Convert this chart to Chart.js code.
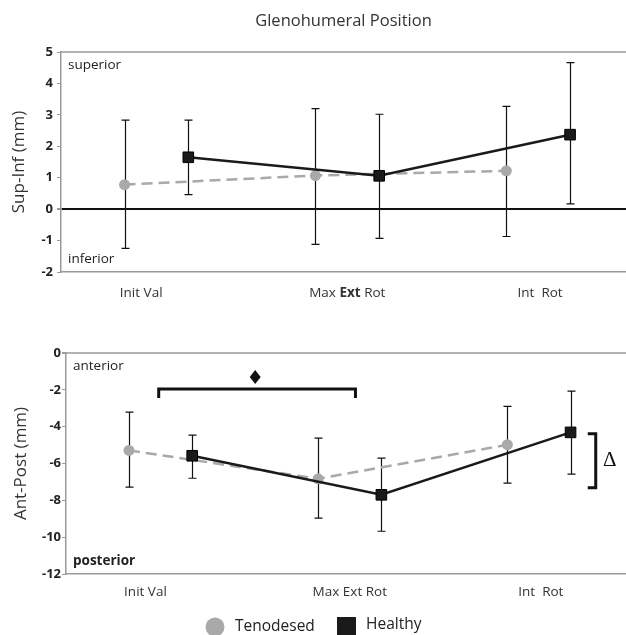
<!DOCTYPE html>
<html>
<head>
<meta charset="utf-8">
<script src="https://cdn.jsdelivr.net/npm/chart.js@4"></script>
<style>
  html, body { margin: 0; padding: 0; background: #fff; }
  #wrap { position: relative; width: 626px; height: 635px; overflow: hidden; }
  #topBox { position: absolute; left: 0; top: 0; width: 626px; height: 320px; }
  #botBox { position: absolute; left: 0; top: 320px; width: 626px; height: 315px; }
</style>
</head>
<body>
<div id="wrap">
  <div id="topBox"><canvas id="supInfChart" width="626" height="320"></canvas></div>
  <div id="botBox"><canvas id="antPostChart" width="626" height="315"></canvas></div>
</div>
<script>
const categories = ['Init Val', 'Max Ext Rot', 'Int  Rot'];
const seriesNames = ['Tenodesed', 'Healthy'];

// Sup-Inf (mm): means and error bar ends
const supInfTenodesed = [0.78, 1.07, 1.22];
const supInfTenodesedHi = [2.83, 3.2, 3.27];
const supInfTenodesedLo = [-1.25, -1.12, -0.87];
const supInfHealthy = [1.65, 1.06, 2.37];
const supInfHealthyHi = [2.83, 3.02, 4.66];
const supInfHealthyLo = [0.46, -0.93, 0.17];
const supInfTicks = [-2, -1, 0, 1, 2, 3, 4, 5];

// Ant-Post (mm)
const antPostTenodesed = [-5.29, -6.83, -4.98];
const antPostTenodesedHi = [-3.21, -4.62, -2.9];
const antPostTenodesedLo = [-7.28, -8.97, -7.07];
const antPostHealthy = [-5.58, -7.7, -4.31];
const antPostHealthyHi = [-4.46, -5.71, -2.07];
const antPostHealthyLo = [-6.8, -9.68, -6.58];
const antPostTicks = [-12, -10, -8, -6, -4, -2, 0];

const FONT = '"Open Sans", "Noto Sans", sans-serif';
const GRAY = '#a9a9a9';
const DARK = '#1a1a1a';
const OFFSET = 0.167;              // side shift of each group inside a category
const LABEL_POS = [-0.08, 1, 2.01]; // where category names sit on the x scale

function points(values, shift) {
  return values.map((v, i) => ({ x: i + shift, y: v }));
}

// vertical error bars with caps, drawn under the markers
const errorBars = {
  id: 'errorBars',
  beforeDatasetsDraw(chart) {
    const { ctx, scales: { y } } = chart;
    ctx.save();
    ctx.strokeStyle = '#111';
    ctx.lineWidth = 1.2;
    chart.data.datasets.forEach((ds, di) => {
      chart.getDatasetMeta(di).data.forEach((pt, i) => {
        const x = Math.round(pt.x) + 0.5;
        const top = y.getPixelForValue(ds.errHi[i]);
        const bot = y.getPixelForValue(ds.errLo[i]);
        ctx.beginPath();
        ctx.moveTo(x, top); ctx.lineTo(x, bot);
        ctx.moveTo(x - 4, top); ctx.lineTo(x + 4, top);
        ctx.moveTo(x - 4, bot); ctx.lineTo(x + 4, bot);
        ctx.stroke();
      });
    });
    ctx.restore();
  }
};

// top frame line, category names (with optional bold words), corner notes
function framePlugin(cfg) {
  return {
    id: 'frame',
    afterDraw(chart) {
      const { ctx, chartArea: a, scales: { x } } = chart;
      ctx.save();
      ctx.strokeStyle = '#9a9a9a';
      ctx.lineWidth = 1.5;
      ctx.beginPath();
      ctx.moveTo(a.left, a.top); ctx.lineTo(a.right, a.top);
      ctx.stroke();

      ctx.fillStyle = '#333';
      ctx.textBaseline = 'middle';
      ctx.textAlign = 'left';
      categories.forEach((label, i) => {
        const words = label.split(' ');
        const pieces = words.map((w, k) => ({
          text: k < words.length - 1 ? w + ' ' : w,
          bold: cfg.boldWords.includes(w)
        }));
        let total = 0;
        pieces.forEach(p => {
          ctx.font = (p.bold ? 'bold ' : '') + '13.5px ' + FONT;
          p.w = ctx.measureText(p.text).width;
          total += p.w;
        });
        let cx = x.getPixelForValue(LABEL_POS[i]) - total / 2;
        pieces.forEach(p => {
          ctx.font = (p.bold ? 'bold ' : '') + '13.5px ' + FONT;
          ctx.fillText(p.text, cx, a.bottom + cfg.labelGap);
          cx += p.w;
        });
      });

      cfg.notes.forEach(n => {
        ctx.font = (n.bold ? 'bold ' : '') + '13.5px ' + FONT;
        ctx.fillStyle = '#222';
        ctx.fillText(n.text, a.left + 7, n.atTop ? a.top + 13 : a.bottom - 13);
      });
      cfg.draw(chart);
      ctx.restore();
    }
  };
}

function makeChart(id, cfg) {
  return new Chart(document.getElementById(id), {
    type: 'line',
    data: {
      datasets: [
        {
          label: seriesNames[1],
          data: points(cfg.healthy, OFFSET),
          errHi: cfg.healthyHi, errLo: cfg.healthyLo,
          borderColor: DARK, backgroundColor: DARK,
          borderWidth: 2.5,
          pointStyle: 'rect', pointRadius: 7.5,
          pointBorderColor: '#000', pointBorderWidth: 1,
          order: 0
        },
        {
          label: seriesNames[0],
          data: points(cfg.tenodesed, -OFFSET),
          errHi: cfg.tenodesedHi, errLo: cfg.tenodesedLo,
          borderColor: GRAY, backgroundColor: GRAY,
          borderWidth: 2.5, borderDash: [11, 6],
          pointStyle: 'circle', pointRadius: 5.5,
          pointBorderWidth: 0,
          order: 1
        }
      ]
    },
    options: {
      responsive: false,
      animation: false,
      events: [],
      layout: { autoPadding: false, padding: { top: cfg.padTop, left: 0, right: 0, bottom: 0 } },
      plugins: {
        legend: { display: false },
        tooltip: { enabled: false }
      },
      scales: {
        x: {
          type: 'linear',
          min: -0.5,
          max: 2.46,
          afterFit: s => { s.height = cfg.xHeight; },
          ticks: { display: false },
          grid: { display: false },
          border: { display: true, color: '#9a9a9a', width: 1.5 }
        },
        y: {
          type: 'linear',
          min: cfg.ticks[0],
          max: cfg.ticks[cfg.ticks.length - 1],
          afterFit: s => { s.width = cfg.yWidth; },
          afterBuildTicks: s => { s.ticks = cfg.ticks.map(v => ({ value: v })); },
          ticks: {
            color: '#222',
            padding: cfg.tickPad,
            font: { family: FONT, size: 13, weight: 'bold' }
          },
          grid: {
            drawOnChartArea: cfg.zeroLine,
            color: c => (c.tick && c.tick.value === 0 ? '#111' : 'rgba(0,0,0,0)'),
            lineWidth: c => (c.tick && c.tick.value === 0 ? 2 : 1),
            tickColor: '#9a9a9a',
            tickLength: 4
          },
          border: { color: '#9a9a9a', width: 1.5 },
          title: {
            display: true,
            text: cfg.yTitle,
            color: '#333',
            padding: { top: cfg.titlePad, bottom: 0 },
            font: { family: FONT, size: 17 }
          }
        }
      }
    },
    plugins: [errorBars, framePlugin(cfg)]
  });
}

makeChart('supInfChart', {
  healthy: supInfHealthy, healthyHi: supInfHealthyHi, healthyLo: supInfHealthyLo,
  tenodesed: supInfTenodesed, tenodesedHi: supInfTenodesedHi, tenodesedLo: supInfTenodesedLo,
  ticks: supInfTicks,
  yTitle: 'Sup-Inf (mm)',
  padTop: 52, xHeight: 48, yWidth: 61, tickPad: 4, titlePad: 9,
  zeroLine: true, labelGap: 21,
  boldWords: ['Ext'],
  notes: [{ text: 'superior', atTop: true }, { text: 'inferior', atTop: false }],
  draw(chart) {
    const { ctx, chartArea: a } = chart;
    ctx.font = '16.5px ' + FONT;
    ctx.fillStyle = '#333';
    ctx.textAlign = 'center';
    ctx.fillText('Glenohumeral Position', (a.left + a.right) / 2, 21);
  }
});

makeChart('antPostChart', {
  healthy: antPostHealthy, healthyHi: antPostHealthyHi, healthyLo: antPostHealthyLo,
  tenodesed: antPostTenodesed, tenodesedHi: antPostTenodesedHi, tenodesedLo: antPostTenodesedLo,
  ticks: antPostTicks,
  yTitle: 'Ant-Post (mm)',
  padTop: 33, xHeight: 61, yWidth: 66, tickPad: 1, titlePad: 11,
  zeroLine: false, labelGap: 18,
  boldWords: [],
  notes: [{ text: 'anterior', atTop: true }, { text: 'posterior', atTop: false, bold: true }],
  draw(chart) {
    const { ctx, scales: { x, y } } = chart;
    ctx.strokeStyle = '#111';
    ctx.fillStyle = '#111';
    ctx.lineWidth = 3;
    // significance bracket between Init Val and Max Ext Rot
    const bx0 = x.getPixelForValue(-0.01), bx1 = x.getPixelForValue(1.03);
    const by = y.getPixelForValue(-1.95);
    ctx.beginPath();
    ctx.moveTo(bx0, by + 9); ctx.lineTo(bx0, by); ctx.lineTo(bx1, by); ctx.lineTo(bx1, by + 9);
    ctx.stroke();
    const dx = x.getPixelForValue(0.5), dy = y.getPixelForValue(-1.3);
    ctx.beginPath();
    ctx.moveTo(dx, dy - 7); ctx.lineTo(dx + 5.5, dy); ctx.lineTo(dx, dy + 7); ctx.lineTo(dx - 5.5, dy);
    ctx.closePath();
    ctx.fill();
    // delta bracket at Int Rot
    const rx = x.getPixelForValue(2.3);
    const ry0 = y.getPixelForValue(-4.39), ry1 = y.getPixelForValue(-7.32);
    ctx.beginPath();
    ctx.moveTo(rx - 8, ry0); ctx.lineTo(rx, ry0); ctx.lineTo(rx, ry1); ctx.lineTo(rx - 8, ry1);
    ctx.stroke();
    ctx.font = '21px "Liberation Serif", "DejaVu Serif", serif';
    ctx.textAlign = 'center';
    ctx.textBaseline = 'middle';
    ctx.fillText('\u0394', rx + 14, (ry0 + ry1) / 2);

    // legend
    ctx.textAlign = 'left';
    ctx.fillStyle = GRAY;
    ctx.beginPath();
    ctx.arc(215, 307, 9.5, 0, Math.PI * 2);
    ctx.fill();
    ctx.fillStyle = DARK;
    ctx.fillRect(337, 297, 19, 19);
    ctx.fillStyle = '#222';
    ctx.font = '15.5px ' + FONT;
    ctx.fillText(seriesNames[0], 235, 307);
    ctx.fillText(seriesNames[1], 366, 305);
  }
});
</script>
</body>
</html>
